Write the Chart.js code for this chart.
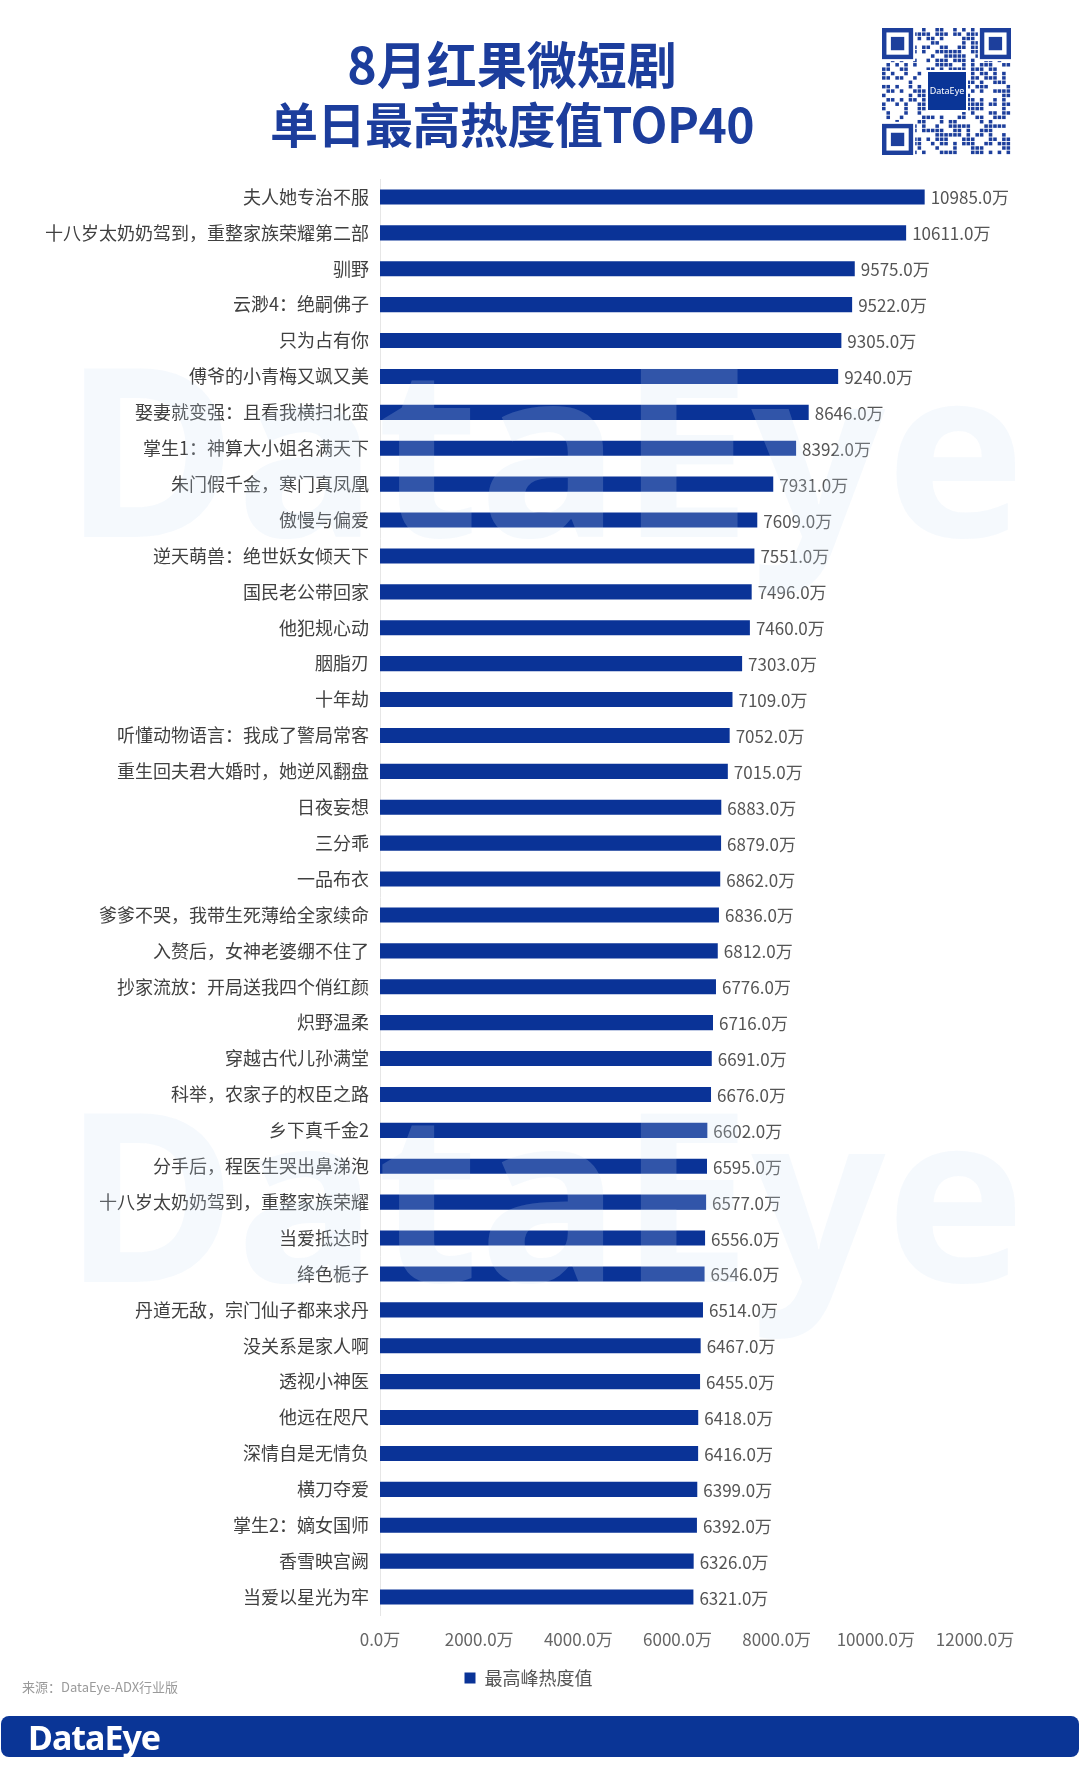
<!DOCTYPE html>
<html>
<head>
<meta charset="utf-8">
<script src="https://cdn.jsdelivr.net/npm/chart.js@4"></script>
<style>
  body { margin: 0; background: #fff; }
  #wrap { position: relative; width: 1080px; height: 1769px; overflow: hidden; font-family: "Noto Sans CJK SC", "Noto Sans", sans-serif; }
  #myChart { position: absolute; left: 0; top: 0; }
  .title { position: absolute; left: 0; width: 1024px; text-align: center; color: #1c3d9c; font-weight: 700; font-size: 48px; line-height: 56px; }
  #qr { position: absolute; left: 882px; top: 28px; }
  #source { position: absolute; left: 22px; top: 1677px; font-size: 13px; color: #9a9a9a; }
  #footer { position: absolute; left: 1px; top: 1716px; width: 1078px; height: 41px; background: #0a3596; border-radius: 8px; }
  #footer span { position: absolute; left: 27px; top: -2px; color: #fff; font: 700 34px "Noto Sans", sans-serif; letter-spacing: -1px; }
</style>
</head>
<body>
<div id="wrap">
  <canvas id="myChart" width="1080" height="1769"></canvas>
  <div class="title" style="top:34px;font-size:50px">8月红果微短剧</div>
  <div class="title" style="top:94px;letter-spacing:-0.5px">单日最高热度值TOP40</div>
  <canvas id="qr" width="129" height="127"></canvas>
  <div id="source">来源：DataEye-ADX行业版</div>
  <div id="footer"><span>DataEye</span></div>
</div>
<script>
const dramas = [
  "夫人她专治不服", "十八岁太奶奶驾到，重整家族荣耀第二部", "驯野", "云渺4：绝嗣佛子", "只为占有你",
  "傅爷的小青梅又飒又美", "娶妻就变强：且看我横扫北蛮", "掌生1：神算大小姐名满天下", "朱门假千金，寒门真凤凰", "傲慢与偏爱",
  "逆天萌兽：绝世妖女倾天下", "国民老公带回家", "他犯规心动", "胭脂刃", "十年劫",
  "听懂动物语言：我成了警局常客", "重生回夫君大婚时，她逆风翻盘", "日夜妄想", "三分乖", "一品布衣",
  "爹爹不哭，我带生死薄给全家续命", "入赘后，女神老婆绷不住了", "抄家流放：开局送我四个俏红颜", "炽野温柔", "穿越古代儿孙满堂",
  "科举，农家子的权臣之路", "乡下真千金2", "分手后，程医生哭出鼻涕泡", "十八岁太奶奶驾到，重整家族荣耀", "当爱抵达时",
  "绛色栀子", "丹道无敌，宗门仙子都来求丹", "没关系是家人啊", "透视小神医", "他远在咫尺",
  "深情自是无情负", "横刀夺爱", "掌生2：嫡女国师", "香雪映宫阙", "当爱以星光为牢"
];
const peakHeat = [
  10985, 10611, 9575, 9522, 9305, 9240, 8646, 8392, 7931, 7609,
  7551, 7496, 7460, 7303, 7109, 7052, 7015, 6883, 6879, 6862,
  6836, 6812, 6776, 6716, 6691, 6676, 6602, 6595, 6577, 6556,
  6546, 6514, 6467, 6455, 6418, 6416, 6399, 6392, 6326, 6321
];
const seriesName = "最高峰热度值";
const xTicks = [0, 2000, 4000, 6000, 8000, 10000, 12000];

const barColor = "#0a3397";
const cjk = '"Noto Sans CJK SC", "Noto Sans", sans-serif';

// 数值标签
const valueLabels = {
  id: "valueLabels",
  afterDatasetsDraw(chart) {
    const ctx = chart.ctx;
    const meta = chart.getDatasetMeta(0);
    ctx.save();
    ctx.font = "17px " + cjk;
    ctx.fillStyle = "#555555";
    ctx.textAlign = "left";
    ctx.textBaseline = "middle";
    meta.data.forEach((bar, i) => {
      ctx.fillText(peakHeat[i].toFixed(1) + "万", bar.x + 6, bar.y + 1);
    });
    ctx.restore();
  }
};

// 水印
const watermark = {
  id: "watermark",
  afterDatasetsDraw(chart) {
    const ctx = chart.ctx;
    ctx.save();
    ctx.font = "700 235px 'Noto Sans', sans-serif";
    ctx.fillStyle = "rgba(205,225,245,0.2)";
    ctx.textAlign = "center";
    ctx.textBaseline = "middle";
    ctx.fillText("DataEye", 545, 470);
    ctx.fillText("DataEye", 545, 1215);
    ctx.restore();
  }
};

// 图例整体右移一点
const legendShift = {
  id: "legendShift",
  afterLayout(chart) {
    const lg = chart.legend;
    if (lg) { lg.left += 82; lg.width -= 82; }
  }
};

const grafica = document.getElementById("myChart").getContext("2d");
const myChart = new Chart(grafica, {
  type: "bar",
  data: {
    labels: dramas,
    datasets: [{
      label: seriesName,
      data: peakHeat,
      backgroundColor: barColor,
      barPercentage: 0.42,
      categoryPercentage: 1
    }]
  },
  options: {
    indexAxis: "y",
    responsive: false,
    animation: false,
    layout: { padding: { top: 179, right: 105, bottom: 72, left: 0 } },
    scales: {
      y: {
        afterFit(scale) { scale.width = 380; },
        grid: { display: false, drawTicks: false },
        border: { display: true, color: "#e6e6e6" },
        ticks: { padding: 11, color: "#404040", font: { size: 18, family: cjk } }
      },
      x: {
        min: 0,
        max: 12000,
        afterFit(scale) { scale.height = 44; },
        afterBuildTicks(scale) { scale.ticks = xTicks.map(v => ({ value: v })); },
        grid: { display: false, drawTicks: false },
        border: { display: false },
        ticks: {
          padding: 14,
          color: "#666666",
          font: { size: 17, family: cjk },
          callback: v => v.toFixed(1) + "万"
        }
      }
    },
    plugins: {
      legend: {
        position: "bottom",
        labels: {
          boxWidth: 11,
          boxHeight: 11,
          padding: 10,
          color: "#555555",
          font: { size: 18, family: cjk }
        }
      },
      tooltip: { enabled: false }
    }
  },
  plugins: [valueLabels, watermark, legendShift]
});

// 二维码装饰
(function drawQr() {
  const c = document.getElementById("qr").getContext("2d");
  const n = 29, cell = 129 / n;
  c.fillStyle = "#fff";
  c.fillRect(0, 0, 129, 127);
  c.fillStyle = "#1d3f9c";
  let s = 12345;
  for (let r = 0; r < n; r++) {
    for (let q = 0; q < n; q++) {
      s = (s * 1103515245 + 12345) & 0x7fffffff;
      if ((s >> 16) % 2 === 0) c.fillRect(q * cell, r * 127 / n, cell * 0.8, 127 / n * 0.8);
    }
  }
  function finder(x, y) {
    c.fillStyle = "#fff"; c.fillRect(x - 2, y - 2, 7 * cell + 4, 7 * cell + 4);
    c.fillStyle = "#1d3f9c"; c.fillRect(x, y, 7 * cell, 7 * cell);
    c.fillStyle = "#fff"; c.fillRect(x + cell, y + cell, 5 * cell, 5 * cell);
    c.fillStyle = "#1d3f9c"; c.fillRect(x + 2 * cell, y + 2 * cell, 3 * cell, 3 * cell);
  }
  finder(0, 0); finder(129 - 7 * cell, 0); finder(0, 127 - 7 * cell);
  c.fillStyle = "#fff"; c.fillRect(44, 42, 42, 42);
  c.fillStyle = "#0a3597"; c.fillRect(46, 44, 38, 38);
  c.fillStyle = "#fff"; c.font = "9px 'Noto Sans', sans-serif"; c.textAlign = "center"; c.textBaseline = "middle";
  c.fillText("DataEye", 65, 63);
})();
</script>
</body>
</html>
